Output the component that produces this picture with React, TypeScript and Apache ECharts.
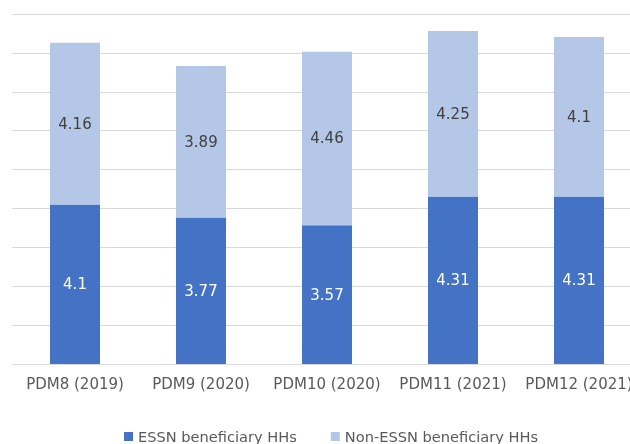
import React, { useEffect, useRef } from "react";
import * as echarts from "echarts";

const categories = ["PDM8 (2019)", "PDM9 (2020)", "PDM10 (2020)", "PDM11 (2021)", "PDM12 (2021)"];
const essnValues = [4.1, 3.77, 3.57, 4.31, 4.31];
const nonEssnValues = [4.16, 3.89, 4.46, 4.25, 4.1];
const seriesNames = ["ESSN beneficiary HHs", "Non-ESSN beneficiary HHs"];

const FONT = "'DejaVu Sans', sans-serif";

export default function App() {
  const ref = useRef<HTMLDivElement>(null);

  useEffect(() => {
    if (!ref.current) return;
    const chart = echarts.init(ref.current, null, { renderer: "svg" });
    chart.setOption({
      animation: false,
      textStyle: { fontFamily: FONT },
      grid: { left: 12, top: 14, width: 630, height: 350, containLabel: false, outerBoundsMode: "none" },
      legend: {
        data: seriesNames,
        left: 124,
        top: 429,
        padding: 0,
        itemWidth: 9,
        itemHeight: 9,
        itemGap: 34,
        icon: "rect",
        textStyle: { fontFamily: FONT, fontSize: 14.6, color: "#595959" },
      },
      xAxis: {
        type: "category",
        data: categories,
        axisLine: { show: true, lineStyle: { color: "#d9d9d9", width: 1 } },
        axisTick: { show: false },
        axisLabel: { fontFamily: FONT, fontSize: 15, color: "#595959", margin: 12, interval: 0 },
      },
      yAxis: {
        type: "value",
        min: 0,
        max: 9,
        interval: 1,
        axisLabel: { show: false },
        axisLine: { show: false },
        axisTick: { show: false },
        splitLine: { lineStyle: { color: "#d9d9d9", width: 1 } },
      },
      series: [
        {
          name: seriesNames[0],
          type: "bar",
          stack: "total",
          data: essnValues,
          barWidth: 50,
          itemStyle: { color: "#4472C4" },
          label: { show: true, position: "inside", color: "#ffffff", fontFamily: FONT, fontSize: 15 },
        },
        {
          name: seriesNames[1],
          type: "bar",
          stack: "total",
          data: nonEssnValues,
          barWidth: 50,
          itemStyle: { color: "#B4C7E7" },
          label: { show: true, position: "inside", color: "#404040", fontFamily: FONT, fontSize: 15 },
        },
      ],
    });
    return () => chart.dispose();
  }, []);

  return <div ref={ref} style={{ width: 630, height: 444, position: "fixed", left: 0, top: 0 }} />;
}
